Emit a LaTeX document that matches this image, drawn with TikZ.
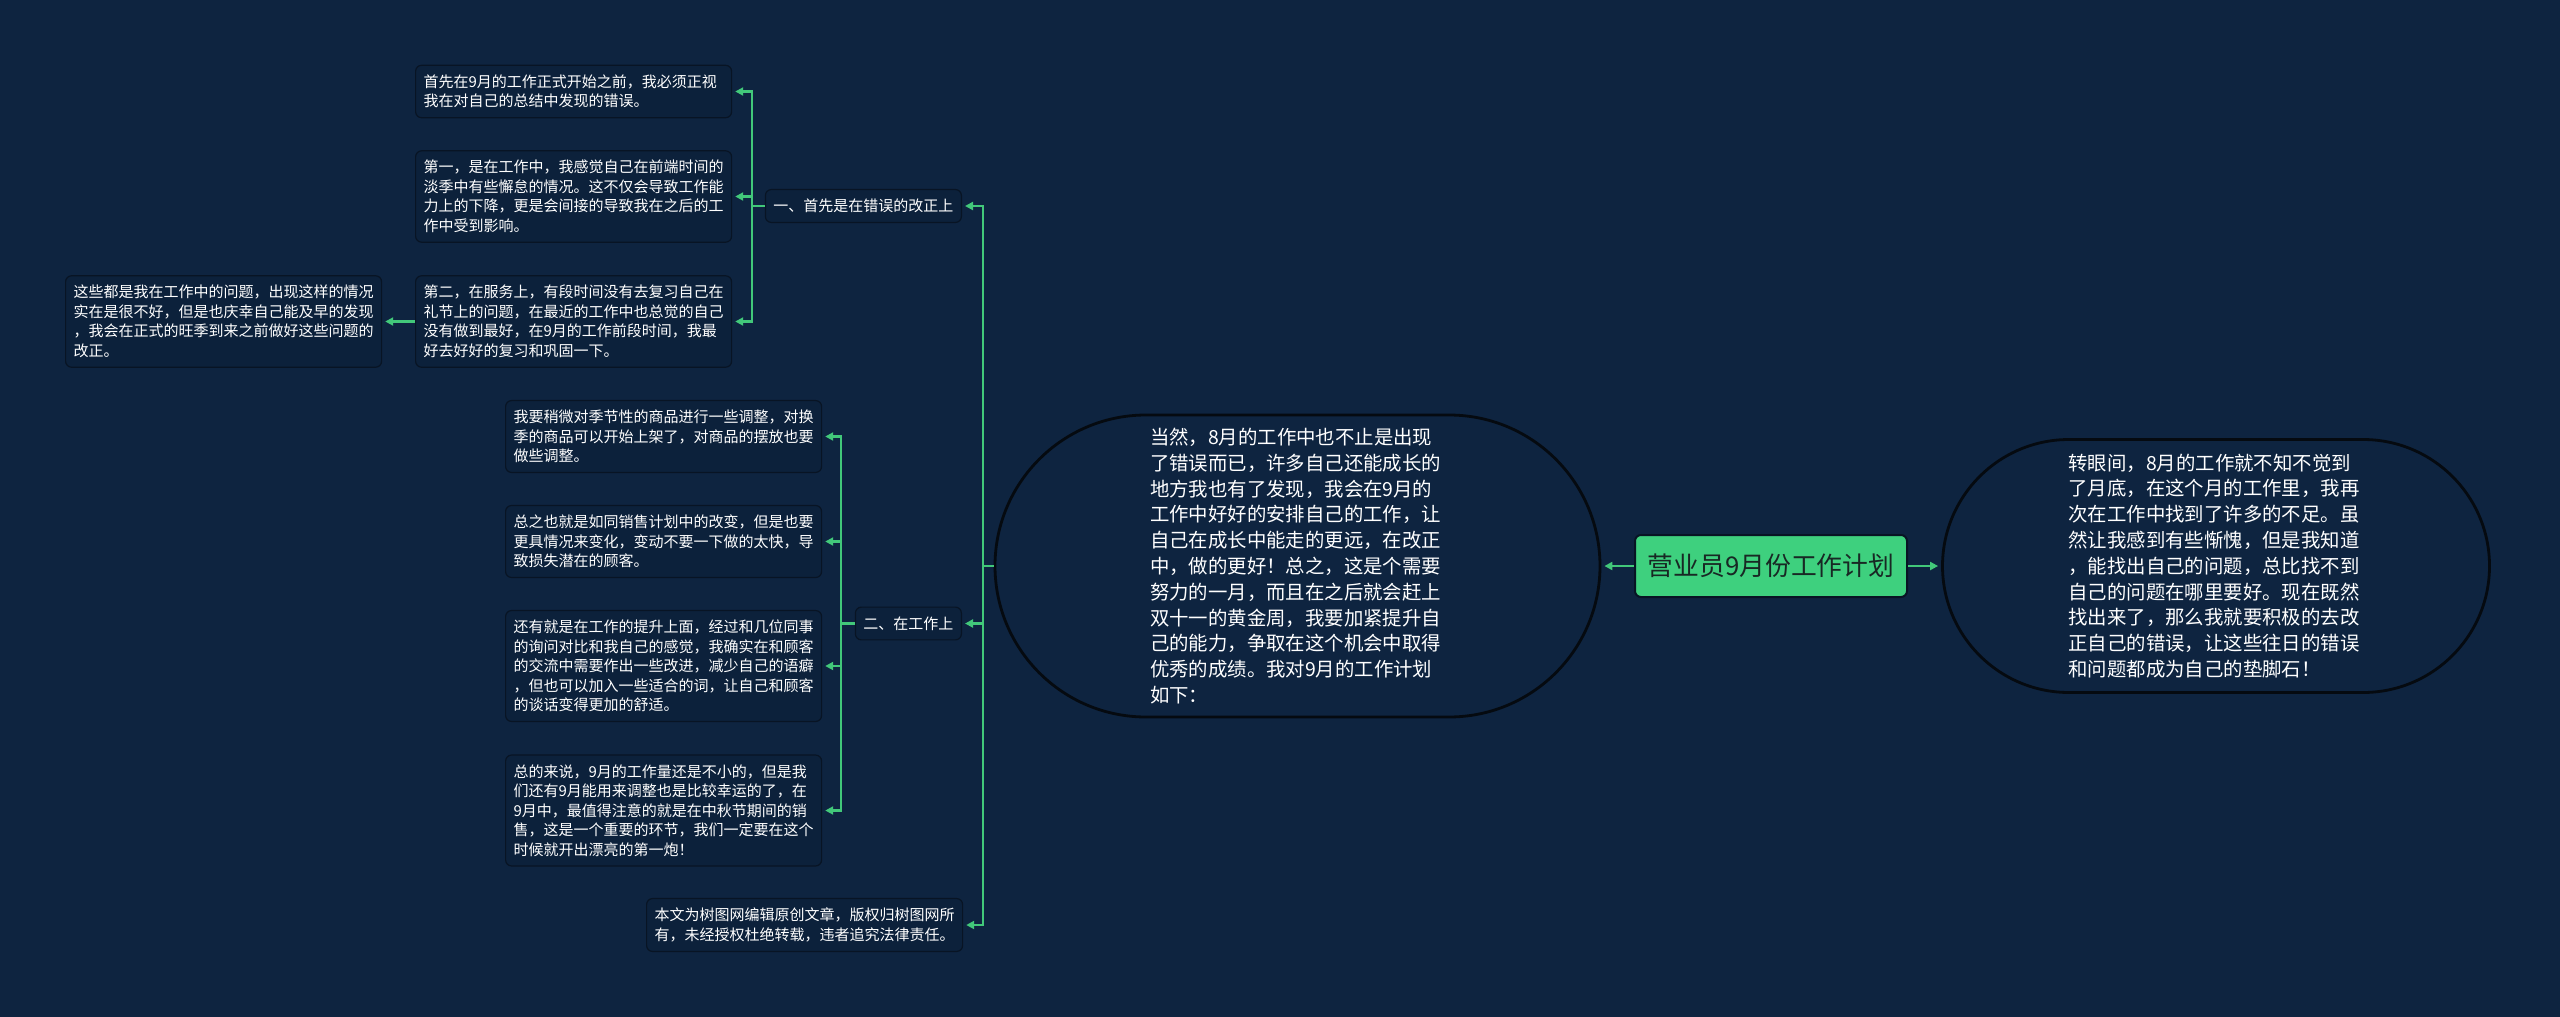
\documentclass[tikz,border=0pt]{standalone}
\usepackage{fontspec}
\setmainfont{Noto Sans CJK SC}
\usetikzlibrary{arrows.meta,shapes.misc}
\definecolor{bg}{RGB}{14,36,64}
\definecolor{boxfill}{RGB}{12,33,59}
\definecolor{lnk}{RGB}{66,200,122}
\definecolor{rootfill}{RGB}{62,208,126}
\definecolor{rimc}{RGB}{8,20,36}
\definecolor{roottext}{RGB}{24,40,36}
\definecolor{stadrim}{RGB}{5,10,16}
\begin{document}
\begin{tikzpicture}[x=1pt,y=-1pt,
  leaf/.style={draw=rimc, line width=1.2pt, fill=boxfill, rounded corners=6pt, text=white,
    font=\fontsize{15}{19.5}\selectfont, align=left, text width=300pt,
    inner xsep=8pt, inner ysep=9.5pt, anchor=west},
  branch/.style={draw=rimc, line width=1.2pt, fill=boxfill, rounded corners=6pt, text=white,
    font=\fontsize{15}{19.5}\selectfont, inner xsep=8pt, inner ysep=9.5pt, anchor=east},
  stadium/.style={rounded rectangle, draw=stadrim, line width=2.8pt, fill=bg, text=white,
    font=\fontsize{19.4}{25.8}\selectfont, align=left, text width=295pt, inner xsep=0pt, inner ysep=0pt},
  rootbox/.style={draw=rimc, line width=2pt, fill=rootfill, rounded corners=6pt, text=roottext,
    font=\fontsize{25.8}{30}\selectfont, minimum width=272pt, minimum height=62pt, inner sep=0pt},
  conn/.style={draw=lnk, line width=2.2pt, -{Triangle[length=8pt,width=8pt]}, shorten >=3pt}
]
\fill[bg] (0,0) rectangle (2560,1017);
\useasboundingbox (0,0) rectangle (2560,1017);

% root
\node[rootbox] (root) at (1771,566) {营业员9月份工作计划};

% stadiums
\node[stadium, minimum width=605pt, minimum height=302pt] (L) at (1297.5,566)
 {当然，8月的工作中也不止是出现\\了错误而已，许多自己还能成长的\\地方我也有了发现，我会在9月的\\工作中好好的安排自己的工作，让\\自己在成长中能走的更远，在改正\\中，做的更好！总之，这是个需要\\努力的一月，而且在之后就会赶上\\双十一的黄金周，我要加紧提升自\\己的能力，争取在这个机会中取得\\优秀的成绩。我对9月的工作计划\\如下：};
\node[stadium, minimum width=547pt, minimum height=253pt] (R) at (2216,566)
 {转眼间，8月的工作就不知不觉到\\了月底，在这个月的工作里，我再\\次在工作中找到了许多的不足。虽\\然让我感到有些惭愧，但是我知道\\，能找出自己的问题，总比找不到\\自己的问题在哪里要好。现在既然\\找出来了，那么我就要积极的去改\\正自己的错误，让这些往日的错误\\和问题都成为自己的垫脚石！};

% branches
\node[branch] (b1) at (962,206) {一、首先是在错误的改正上};
\node[branch] (b2) at (962,623.5) {二、在工作上};
\node[leaf] (note) at (646,925) {本文为树图网编辑原创文章，版权归树图网所\\有，未经授权杜绝转载，违者追究法律责任。};

% branch 1 children
\node[leaf] (c1) at (415,91.5) {首先在9月的工作正式开始之前，我必须正视\\我在对自己的总结中发现的错误。};
\node[leaf] (c2) at (415,196.5) {第一，是在工作中，我感觉自己在前端时间的\\淡季中有些懈怠的情况。这不仅会导致工作能\\力上的下降，更是会间接的导致我在之后的工\\作中受到影响。};
\node[leaf] (c3) at (415,321.5) {第二，在服务上，有段时间没有去复习自己在\\礼节上的问题，在最近的工作中也总觉的自己\\没有做到最好，在9月的工作前段时间，我最\\好去好好的复习和巩固一下。};
\node[leaf] (zx) at (65,321.5) {这些都是我在工作中的问题，出现这样的情况\\实在是很不好，但是也庆幸自己能及早的发现\\，我会在正式的旺季到来之前做好这些问题的\\改正。};

% branch 2 children
\node[leaf] (d1) at (505,436.5) {我要稍微对季节性的商品进行一些调整，对换\\季的商品可以开始上架了，对商品的摆放也要\\做些调整。};
\node[leaf] (d2) at (505,541.5) {总之也就是如同销售计划中的改变，但是也要\\更具情况来变化，变动不要一下做的太快，导\\致损失潜在的顾客。};
\node[leaf] (d3) at (505,666) {还有就是在工作的提升上面，经过和几位同事\\的询问对比和我自己的感觉，我确实在和顾客\\的交流中需要作出一些改进，减少自己的语癖\\，但也可以加入一些适合的词，让自己和顾客\\的谈话变得更加的舒适。};
\node[leaf] (d4) at (505,810.5) {总的来说，9月的工作量还是不小的，但是我\\们还有9月能用来调整也是比较幸运的了，在\\9月中，最值得注意的就是在中秋节期间的销\\售，这是一个重要的环节，我们一定要在这个\\时候就开出漂亮的第一炮！};

% connectors
\draw[conn] (root.west) -- (L.east);
\draw[conn] (root.east) -- (R.west);
\coordinate (t) at (983,566);
\draw[conn] (L.west) -- (t) |- (b1.east);
\draw[conn] (L.west) -- (t) |- (b2.east);
\draw[conn] (L.west) -- (t) |- (note.east);
\draw[conn] (b1.west) -- ++(-13,0) |- (c1.east);
\draw[conn] (b1.west) -- ++(-13,0) |- (c2.east);
\draw[conn] (b1.west) -- ++(-13,0) |- (c3.east);
\draw[conn] (c3.west) -- (zx.east);
\draw[conn] (b2.west) -- ++(-14,0) |- (d1.east);
\draw[conn] (b2.west) -- ++(-14,0) |- (d2.east);
\draw[conn] (b2.west) -- ++(-14,0) |- (d3.east);
\draw[conn] (b2.west) -- ++(-14,0) |- (d4.east);
\end{tikzpicture}
\end{document}
